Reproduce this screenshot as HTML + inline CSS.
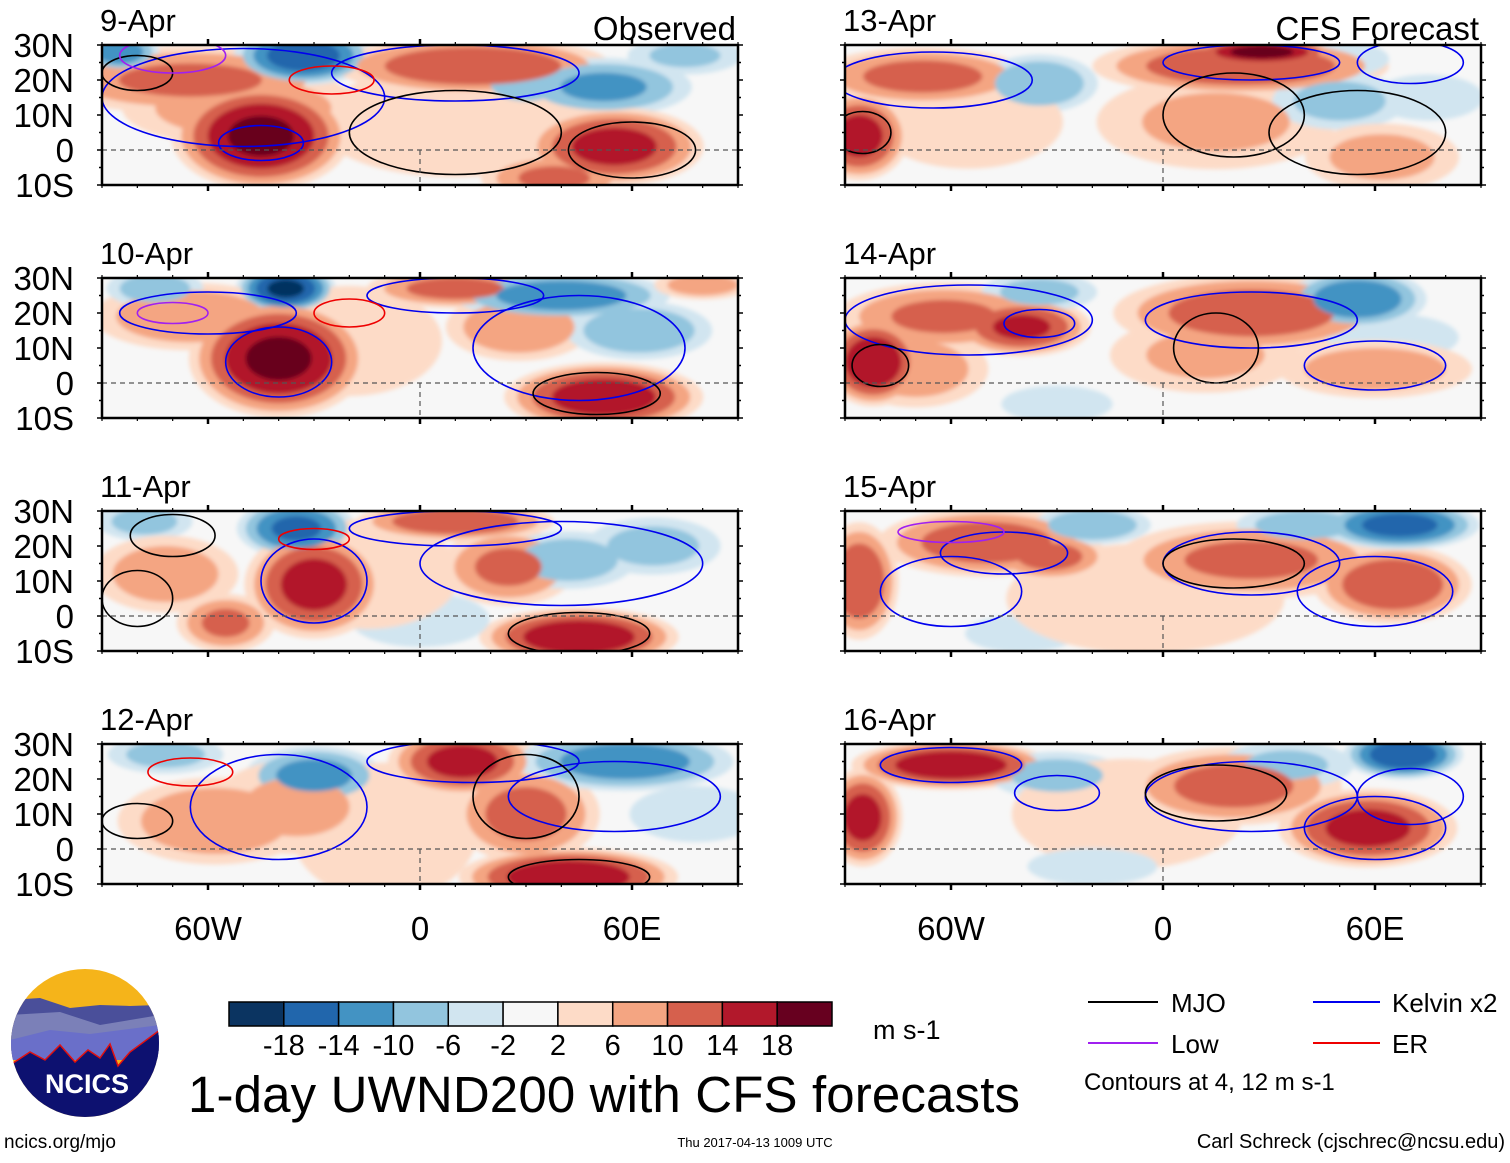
<!DOCTYPE html>
<html><head><meta charset="utf-8">
<style>
html,body{margin:0;padding:0;background:#fff;}
body{width:1510px;height:1158px;overflow:hidden;font-family:"Liberation Sans",sans-serif;}
svg text{font-family:"Liberation Sans",sans-serif;}
</style></head>
<body>
<svg id="fig" width="1510" height="1158" viewBox="0 0 1510 1158" xmlns="http://www.w3.org/2000/svg">
<defs>
<filter id="soft" x="-20%" y="-20%" width="140%" height="140%"><feGaussianBlur stdDeviation="2"/></filter>
</defs>
<g id="panels"></g>
<g id="legend-area"></g>
</svg>
<script>
// ---- data ----
const panelTitles = ["9-Apr","10-Apr","11-Apr","12-Apr","13-Apr","14-Apr","15-Apr","16-Apr"];
const latTicks = [30,20,10,0,-10];
const latLabels = ["30N","20N","10N","0","10S"];
const lonTicks = [-60,0,60];
const lonLabels = ["60W","0","60E"];
const levels = [2,6,10,14,18];
const posColors = ["#fddbc7","#f4a582","#d6604d","#b2182b","#67001f"];
const negColors = ["#d1e5f0","#92c5de","#4393c3","#2166ac","#053061"];
const cbarColors = ["#0b3461","#2166ac","#4393c3","#92c5de","#d1e5f0","#f7f7f7","#fddbc7","#f4a582","#d6604d","#b2182b","#67001f"];
const cbarLabels = ["-18","-14","-10","-6","-2","2","6","10","14","18"];
// wind anomaly blobs per panel: [lon, lat, lonRadius, latRadius, value m/s]
const blobs0 = [[-65,20,30,7,10],[-45,4,18,11,18],[-50,12,25,8,8],[-33,27,14,6,-16],[-85,28,8,4,-12],[15,24,28,6,13],[52,18,18,6,-10],[30,19,12,6,-6],[55,1,18,8,15],[38,-8,15,5,10],[10,8,30,12,4],[75,27,12,4,-6]];
const blobs1 = [[-38,27,10,5,-18],[-40,7,18,12,18],[-65,19,20,7,9],[-75,27,10,4,-8],[10,27,18,4,11],[28,16,15,7,9],[40,25,22,5,-12],[62,15,15,6,-9],[52,-4,20,7,16],[-20,12,20,12,4],[80,28,10,3,8]];
const blobs2 = [[-35,25,12,6,-14],[-78,27,10,4,-7],[-30,9,14,11,15],[-55,-2,10,6,10],[-72,12,15,8,8],[10,27,20,4,13],[25,14,14,8,10],[42,16,14,6,-8],[66,20,14,6,-7],[45,-6,20,6,17],[0,-1,15,6,-4],[-15,12,20,12,4]];
const blobs3 = [[-30,21,14,6,-11],[-72,27,12,4,-7],[-58,8,20,9,9],[-35,12,18,10,6],[12,25,15,7,15],[30,10,15,10,11],[58,25,22,6,-12],[78,10,14,6,-5],[42,-8,22,6,17],[-10,5,20,15,4]];
const blobs4 = [[-68,21,22,6,11],[-86,4,10,9,15],[-35,19,12,6,-9],[22,24,30,6,13],[28,28,15,3,19],[15,8,25,10,6],[50,14,14,6,-7],[48,26,12,4,-5],[62,-2,16,7,7],[-55,8,20,10,5],[75,15,12,5,-4]];
const blobs5 = [[-82,6,10,9,17],[-62,19,22,7,10],[-40,16,14,6,14],[-35,26,12,4,-7],[25,20,28,8,12],[12,8,20,8,6],[55,24,14,6,-13],[65,13,14,5,-5],[60,4,20,6,8],[-30,-6,12,4,-4],[-70,4,15,8,8]];
const blobs6 = [[-86,10,8,12,13],[-50,21,22,7,12],[-32,17,12,5,11],[-20,26,12,4,-9],[25,16,28,8,10],[65,9,16,8,13],[67,26,16,5,-15],[40,26,14,4,-8],[-40,-5,12,4,-5],[-5,5,30,12,4]];
const blobs7 = [[-60,24,20,5,17],[-85,9,8,10,15],[-30,21,14,5,-7],[20,18,22,8,11],[58,6,18,8,15],[68,27,12,5,-17],[35,24,14,5,-6],[-10,10,25,12,4],[-20,-5,14,4,-4]];
const allBlobs = [blobs0,blobs1,blobs2,blobs3,blobs4,blobs5,blobs6,blobs7];
// contours: [lon, lat, lonRadius, latRadius, type]
const contours0 = [[-45,2,12,5,"k"],[-50,15,40,14,"k2"],[10,22,35,8,"k"],[-80,22,10,5,"m"],[-70,27,15,5,"l"],[-25,20,12,4,"e"],[10,5,30,12,"j"],[60,0,18,8,"j"]];
const contours1 = [[-40,6,15,10,"k"],[-60,20,25,6,"k"],[10,25,25,5,"k"],[45,10,30,15,"k"],[-20,20,10,4,"e"],[-70,20,10,3,"l"],[50,-3,18,6,"j"]];
const contours2 = [[-30,10,15,12,"k"],[10,25,30,5,"k"],[40,15,40,12,"k"],[-30,22,10,3,"e"],[-70,23,12,6,"j"],[-80,5,10,8,"j"],[45,-5,20,6,"j"]];
const contours3 = [[-40,12,25,15,"k"],[15,25,30,6,"k"],[55,15,30,10,"k"],[-65,22,12,4,"e"],[-80,8,10,5,"j"],[30,15,15,12,"j"],[45,-8,20,5,"j"]];
const contours4 = [[-65,20,28,8,"k"],[25,25,25,5,"k"],[20,10,20,12,"j"],[70,25,15,6,"k"],[-85,5,8,6,"j"],[55,5,25,12,"j"]];
const contours5 = [[-55,18,35,10,"k"],[25,18,30,8,"k"],[15,10,12,10,"j"],[60,5,20,7,"k"],[-80,5,8,6,"j"],[-35,17,10,4,"k"]];
const contours6 = [[-45,18,18,6,"k"],[-60,7,20,10,"k"],[25,15,25,9,"k"],[20,15,20,7,"j"],[60,7,22,10,"k"],[-60,24,15,3,"l"]];
const contours7 = [[-60,24,20,5,"k"],[-30,16,12,5,"k"],[25,15,30,10,"k"],[15,16,20,8,"j"],[60,6,20,9,"k"],[70,15,15,8,"k"]];
const allContours = [contours0,contours1,contours2,contours3,contours4,contours5,contours6,contours7];

// ---- layout ----
const NS = "http://www.w3.org/2000/svg";
const colX = [102, 845];
const rowY = [45, 278, 511, 744];
const PW = 636, PH = 140;
const GROW = 1.45;
const lineColors = {k:"#0000ee",k2:"#0000ee",m:"#000000",j:"#000000",l:"#a020f0",e:"#ee0000"};
function mk(tag, attrs, parent){const e=document.createElementNS(NS,tag);for(const k in attrs)e.setAttribute(k,attrs[k]);if(parent)parent.appendChild(e);return e;}
const root = document.getElementById("panels");

allBlobs.forEach((blobs, p) => {
  const x0 = colX[p < 4 ? 0 : 1], y0 = rowY[p % 4];
  const xs = lon => x0 + (lon + 90) / 180 * PW;
  const ys = lat => y0 + (30 - lat) / 40 * PH;
  const g = mk("g", {}, root);
  
  
  const clipId = "clip" + p;
  const cp = mk("clipPath", {id: clipId}, g);
  mk("rect", {x: x0, y: y0, width: PW, height: PH}, cp);
  const inner = mk("g", {"clip-path": "url(#" + clipId + ")"}, g);
  mk("rect", {x: x0, y: y0, width: PW, height: PH, fill: "#f7f7f7"}, inner);
  const fg = mk("g", {filter: "url(#soft)"}, inner);
  levels.forEach((t, li) => {
    blobs.forEach(b => {
      const v = b[4], a = Math.abs(v);
      if (a < t) return;
      const f = GROW * Math.sqrt(1 - (t - 1) / (a + 1.5));
      const el = mk("ellipse", {cx: xs(b[0]), cy: ys(b[1]), rx: b[2] / 180 * PW * f, ry: b[3] / 40 * PH * f, fill: v > 0 ? posColors[li] : negColors[li]}, fg);
      
      
    });
  });
  allContours[p].forEach(c => {
    const el = mk("ellipse", {cx: xs(c[0]), cy: ys(c[1]), rx: c[2] / 180 * PW, ry: c[3] / 40 * PH, fill: "none", stroke: lineColors[c[4]], "stroke-width": 1.6}, inner);
    
    
  });
  mk("line", {x1: x0, x2: x0 + PW, y1: ys(0), y2: ys(0), stroke: "#555", "stroke-width": 1.2, "stroke-dasharray": "5,4"}, inner);
  mk("line", {x1: xs(0), x2: xs(0), y1: ys(0), y2: y0 + PH, stroke: "#555", "stroke-width": 1.2, "stroke-dasharray": "5,4"}, inner);
  const fr = mk("rect", {x: x0, y: y0, width: PW, height: PH, fill: "none", stroke: "#000", "stroke-width": 2.5}, g);
  
  
  for (let lon = -90; lon <= 90; lon += 10) {
    const major = lon % 60 === 0;
    const L = major ? 6 : 3;
    mk("line", {x1: xs(lon), x2: xs(lon), y1: y0, y2: y0 - L, stroke: "#000", "stroke-width": major ? 2.5 : 1.2}, g);
    mk("line", {x1: xs(lon), x2: xs(lon), y1: y0 + PH, y2: y0 + PH + L, stroke: "#000", "stroke-width": major ? 2.5 : 1.2}, g);
  }
  for (let lat = -10; lat <= 30; lat += 5) {
    const L = lat % 10 === 0 ? 5 : 3;
    mk("line", {x1: x0, x2: x0 - L, y1: ys(lat), y2: ys(lat), stroke: "#000", "stroke-width": 1.5}, g);
    mk("line", {x1: x0 + PW, x2: x0 + PW + L, y1: ys(lat), y2: ys(lat), stroke: "#000", "stroke-width": 1.5}, g);
  }
  const tt = mk("text", {x: x0 - 2, y: y0 - 14, "font-size": 31}, g);
  tt.textContent = panelTitles[p];
  
  
  if (p === 0 || p === 4) {
    const st = mk("text", {x: x0 + PW - 2, y: y0 - 5, "font-size": 33, "text-anchor": "end"}, g);
    st.textContent = p === 0 ? "Observed" : "CFS Forecast";
    
    
  }
  if (p < 4) {
    latTicks.forEach((lat, i) => {
      const lt = mk("text", {x: 74, y: ys(lat) + 12, "font-size": 33, "text-anchor": "end"}, g);
      lt.textContent = latLabels[i];
      
      
    });
  }
  if (p % 4 === 3) {
    lonTicks.forEach((lon, i) => {
      const lt = mk("text", {x: xs(lon), y: 940, "font-size": 33, "text-anchor": "middle"}, g);
      lt.textContent = lonLabels[i];
      
      
    });
  }
});

// ---- colorbar ----
const lg = document.getElementById("legend-area");
const cbX = 229, cbY = 1002, cbW = 603, cbH = 24, bw = cbW / cbarColors.length;
cbarColors.forEach((c, i) => {
  const r = mk("rect", {x: cbX + i * bw, y: cbY, width: bw, height: cbH, fill: c, stroke: "#000", "stroke-width": 1.5}, lg);
  
  
});
cbarLabels.forEach((l, i) => {
  const t = mk("text", {x: cbX + (i + 1) * bw, y: 1055, "font-size": 29, "text-anchor": "middle"}, lg);
  t.textContent = l;
  
  
});
</script>
<svg width="1510" height="1158" style="position:absolute;left:0;top:0;pointer-events:none" xmlns="http://www.w3.org/2000/svg">
  <text x="873" y="1039" font-size="27">m s-1</text>
  <text x="188" y="1112" font-size="51" textLength="832">1-day UWND200 with CFS forecasts</text>
  <g>
    <line x1="1088" y1="1002" x2="1158" y2="1002" stroke="#000" stroke-width="2"/>
    <text x="1171" y="1012" font-size="26">MJO</text>
    <line x1="1313" y1="1002" x2="1380" y2="1002" stroke="#0000ee" stroke-width="2"/>
    <text x="1392" y="1012" font-size="26">Kelvin x2</text>
    <line x1="1088" y1="1043" x2="1158" y2="1043" stroke="#a020f0" stroke-width="2"/>
    <text x="1171" y="1053" font-size="26">Low</text>
    <line x1="1313" y1="1043" x2="1380" y2="1043" stroke="#ee0000" stroke-width="2"/>
    <text x="1392" y="1053" font-size="26">ER</text>
    <text x="1084" y="1090" font-size="24">Contours at 4, 12 m s-1</text>
  </g>
  <g>
    <clipPath id="logoclip"><circle cx="85" cy="1043" r="74"/></clipPath>
    <g clip-path="url(#logoclip)">
      <rect x="10" y="968" width="150" height="150" fill="#f5b41a"/>
      <path d="M10 1000 L40 998 L70 1008 L100 1005 L130 1006 L160 1005 L160 1060 L10 1060Z" fill="#4a4f9a"/>
      <path d="M10 1015 L60 1012 L100 1025 L160 1015 L160 1060 L10 1060Z" fill="#7b80b8"/>
      <path d="M10 1040 L50 1030 L90 1034 L160 1025 L160 1060 L10 1060Z" fill="#6a6fc9"/>
      <path d="M10 1065 L30 1052 L45 1060 L60 1045 L75 1062 L88 1050 L100 1058 L110 1044 L118 1066 L130 1052 L160 1030 L160 1120 L10 1120Z" fill="#0d1170" stroke="#e01010" stroke-width="1.5"/>
    </g>
    <text x="87" y="1093" font-size="27" font-weight="bold" fill="#fff" text-anchor="middle">NCICS</text>
  </g>
  <text x="4" y="1148" font-size="19">ncics.org/mjo</text>
  <text x="755" y="1147" font-size="13" text-anchor="middle">Thu 2017-04-13 1009 UTC</text>
  <text x="1505" y="1148" font-size="20" text-anchor="end">Carl Schreck (cjschrec@ncsu.edu)</text>
</svg>
</body></html>
